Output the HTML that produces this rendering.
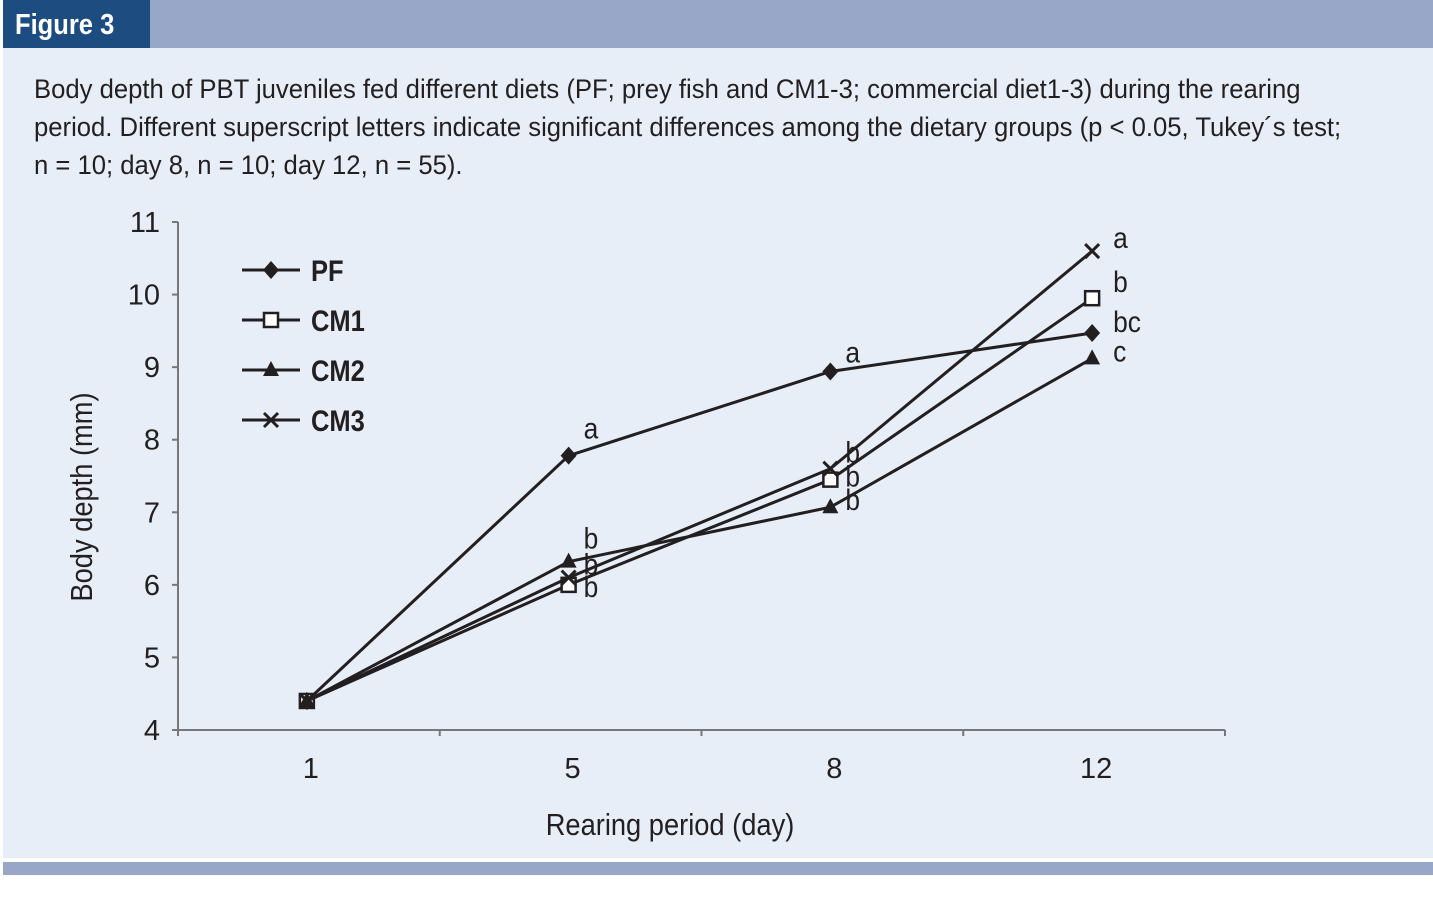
<!DOCTYPE html>
<html><head><meta charset="utf-8">
<style>
body{margin:0;width:1433px;height:914px;background:#fff;overflow:hidden;font-family:"Liberation Sans",sans-serif;}
#panel{position:absolute;left:3px;top:0;width:1430px;height:858px;background:#e7eef7;}
#topbar{position:absolute;left:3px;top:0;width:1430px;height:48px;background:#98a7c8;}
#tab{position:absolute;left:3px;top:0;width:147px;height:48px;background:#1d4d80;}
#tabtext{position:absolute;left:15px;top:0;color:#fff;font-weight:bold;font-size:29px;line-height:50px;transform:scaleX(0.88);transform-origin:left;white-space:nowrap;}
#botbar{position:absolute;left:3px;top:862px;width:1430px;height:13px;background:#98a7c8;}
#caption{position:absolute;left:34px;top:70px;width:1380px;font-size:27px;line-height:38px;color:#231f20;transform:scaleX(0.95);transform-origin:left top;white-space:nowrap;}
svg{position:absolute;left:0;top:0;}
</style></head><body>
<div id="panel"></div>
<div id="topbar"></div>
<div id="tab"></div>
<div id="tabtext">Figure 3</div>
<div id="botbar"></div>
<div id="caption">Body depth of PBT juveniles fed different diets (PF; prey fish and CM1-3; commercial diet1-3) during the rearing<br>period. Different superscript letters indicate significant differences among the dietary groups (p &lt; 0.05, Tukey´s test;<br>n = 10; day 8, n = 10; day 12, n = 55).</div>
<svg id="chart" width="1433" height="914"></svg>
<script>
const categories=["1","5","8","12"];
const yTicks=[4,5,6,7,8,9,10,11];
const seriesNames=["PF","CM1","CM2","CM3"];
const pfValues=[4.4,7.78,8.94,9.47];
const cm1Values=[4.4,6.0,7.45,9.95];
const cm2Values=[4.4,6.32,7.07,9.12];
const cm3Values=[4.4,6.1,7.6,10.6];
const pfLetters=["","a","a","bc"];
const cm1Letters=["","b","b","b"];
const cm2Letters=["","b","b","c"];
const cm3Letters=["","b","b","a"];

const NS="http://www.w3.org/2000/svg";
const svg=document.getElementById('chart');
const X0=178,X1=1225,Y0=730,Y1=222,YMIN=4,YMAX=11;
const band=(X1-X0)/categories.length;
function xs(i){return X0+band*(i+0.5)-2;}
function ys(v){return Y0-(v-YMIN)/(YMAX-YMIN)*(Y0-Y1);}
function mk(tag,attrs,parent){const e=document.createElementNS(NS,tag);for(const k in attrs)e.setAttribute(k,attrs[k]);(parent||svg).appendChild(e);return e;}
const ink="#231f20";
let ax=mk('line',{x1:X0,y1:Y1,x2:X0,y2:Y0,stroke:'#777','stroke-width':2});


ax=mk('line',{x1:X0,y1:Y0,x2:X1,y2:Y0,stroke:'#777','stroke-width':2});


yTicks.forEach(t=>{
  mk('line',{x1:X0-6,y1:ys(t),x2:X0,y2:ys(t),stroke:'#777','stroke-width':2});
  const tx=mk('text',{x:X0-18,y:ys(t)+10,'text-anchor':'end','font-size':29,fill:ink});
  tx.textContent=t;
  
  
});
for(let i=0;i<=categories.length;i++){mk('line',{x1:X0+band*i,y1:Y0,x2:X0+band*i,y2:Y0+6,stroke:'#777','stroke-width':2});}
categories.forEach((c,i)=>{
  const tx=mk('text',{x:xs(i)+4,y:778,'text-anchor':'middle','font-size':29,fill:ink});
  tx.textContent=c;
  
  
});
let t=mk('text',{x:0,y:0,'text-anchor':'middle','font-size':31,fill:ink,transform:'translate(670,835) scale(0.88,1)'});
t.textContent='Rearing period (day)';


t=mk('text',{x:0,y:0,'text-anchor':'middle','font-size':31,fill:ink,transform:'translate(92,497) rotate(-90) scale(0.88,1)'});
t.textContent='Body depth (mm)';



function marker(type,x,y,g){
  if(type==='PF')mk('polygon',{points:`${x},${y-9} ${x+8},${y} ${x},${y+9} ${x-8},${y}`,fill:ink},g);
  else if(type==='CM1')mk('rect',{x:x-7,y:y-7,width:14,height:14,fill:'#fff',stroke:ink,'stroke-width':2.5},g);
  else if(type==='CM2')mk('polygon',{points:`${x},${y-9} ${x+8},${y+6} ${x-8},${y+6}`,fill:ink},g);
  else {mk('line',{x1:x-7,y1:y-7,x2:x+7,y2:y+7,stroke:ink,'stroke-width':3},g);mk('line',{x1:x-7,y1:y+7,x2:x+7,y2:y-7,stroke:ink,'stroke-width':3},g);}
}
const allVals=[pfValues,cm1Values,cm2Values,cm3Values];
const allLetters=[pfLetters,cm1Letters,cm2Letters,cm3Letters];
// label baseline offsets (px) relative to each point
const letterDy=[[0,-17,-9,-1],[0,12,7,-6],[0,-13,3,3],[0,-3,-6,-3]];
const letterDx=[0,15,15,21];
allVals.forEach((vals,s)=>{
  const g=mk('g',{});
  
  
  const pts=vals.map((v,i)=>xs(i)+','+ys(v)).join(' ');
  mk('polyline',{points:pts,fill:'none',stroke:ink,'stroke-width':3},g);
  vals.forEach((v,i)=>marker(seriesNames[s],xs(i),ys(v),g));
  allLetters[s].forEach((L,i)=>{
    if(!L)return;
    const lx=xs(i)+letterDx[i], ly=ys(vals[i])+letterDy[s][i];
    const lt=mk('text',{x:0,y:0,'font-size':30,fill:ink,transform:`translate(${lx},${ly}) scale(0.88,1)`},g);
    lt.textContent=L;
  });
});
seriesNames.forEach((n,i)=>{
  const g=mk('g',{});
  
  
  const y=270+i*50;
  mk('line',{x1:242,y1:y,x2:300,y2:y,stroke:ink,'stroke-width':3},g);
  marker(n,271,y,g);
  const tx=mk('text',{x:0,y:0,'font-size':30,'font-weight':'bold',fill:ink,transform:`translate(311,${y+11}) scale(0.85,1)`},g);
  tx.textContent=n;
});
</script>
</body></html>
